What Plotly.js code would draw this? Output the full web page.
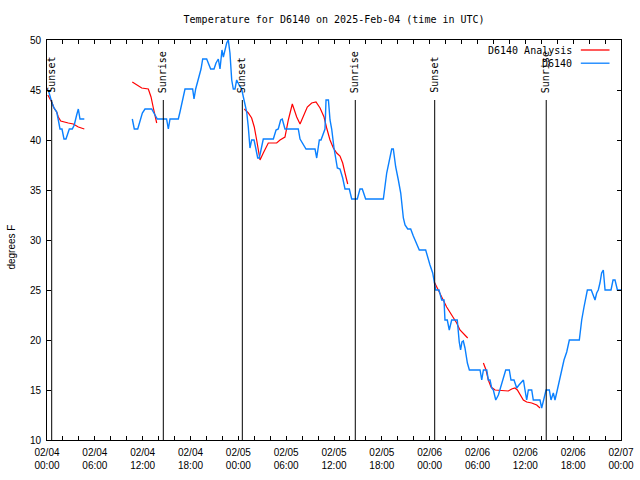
<!DOCTYPE html>
<html>
<head>
<meta charset="utf-8">
<script src="https://cdn.plot.ly/plotly-3.0.1.min.js"></script>
<style>html,body{margin:0;padding:0;background:#fff;}#chart{width:640px;height:480px;}</style>
</head>
<body>
<div id="chart"></div>
<script>
// Hours since 2025-02-04 00:00 UTC
const obsHours = [0.16,0.38,0.59,0.88,1.22,1.42,1.63,1.88,2.13,2.38,2.59,2.80,3.17,3.42,3.72,3.93,4.14,4.68,
  7.0,
  10.70,10.95,11.38,11.67,11.96,12.29,13.13,13.55,13.84,15.00,15.22,15.43,16.47,16.68,17.10,17.31,18.27,18.44,18.65,18.98,
  19.32,19.53,20.03,20.53,20.95,21.20,21.49,21.70,21.95,22.12,22.33,22.54,22.74,22.95,23.17,23.37,23.58,23.79,24.10,24.42,
  24.63,25.05,25.25,25.46,25.67,25.97,26.18,26.43,26.63,26.84,27.13,28.39,28.73,29.01,29.31,29.51,29.85,31.52,31.74,32.49,
  33.62,33.83,34.16,34.37,34.87,35.00,35.30,35.50,35.71,36.00,36.25,36.42,36.75,37.09,37.38,37.92,38.22,38.92,39.26,39.55,
  39.97,42.19,42.61,43.03,43.24,43.44,43.74,44.07,44.37,44.70,44.91,45.25,45.62,45.95,46.45,46.70,47.50,47.75,48.04,48.38,
  48.58,48.76,49.17,49.51,49.80,49.92,50.21,50.46,50.76,51.46,51.71,51.88,52.05,52.22,52.43,52.73,52.98,54.32,54.53,54.74,
  55.16,55.36,55.57,55.78,55.99,56.29,56.62,56.82,57.16,57.54,57.99,58.20,58.58,58.92,59.20,59.55,59.76,59.96,60.17,60.38,
  60.80,61.00,61.84,62.05,62.26,62.60,63.01,63.22,63.51,63.72,64.01,64.26,64.56,64.85,65.19,65.52,66.77,67.07,67.36,67.78,
  68.27,68.53,68.74,68.95,69.15,69.36,69.57,69.78,70.00,70.75,71.00,71.25,71.55,72.00];
const obsTemps = [45.0,44.3,43.8,43.2,42.8,42.0,41.1,41.1,40.1,40.1,40.7,41.1,41.1,41.5,42.5,43.1,42.1,42.1,
  null,
  42.1,41.1,41.1,42.0,42.7,43.1,43.1,42.5,42.1,42.1,41.1,42.1,42.1,42.8,44.2,45.1,45.1,44.1,45.1,46.0,
  47.1,48.1,48.1,47.1,47.1,47.7,48.1,47.1,49.0,48.3,49.0,49.7,50.0,48.7,46.0,45.1,45.1,46.0,45.5,45.1,
  44.3,42.8,41.3,39.2,40.0,40.0,39.2,38.2,38.2,39.1,40.1,40.1,41.0,41.1,42.0,42.1,41.1,41.1,40.1,39.1,
  39.1,38.2,40.0,40.0,41.1,44.0,44.0,42.0,41.1,39.2,38.2,37.2,37.1,36.2,35.1,35.1,34.1,34.1,35.1,35.1,
  34.1,34.1,36.7,38.5,39.1,39.1,37.3,36.0,34.7,32.2,31.5,31.1,31.1,30.4,29.5,29.0,29.0,28.2,27.5,26.7,
  25.7,25.0,25.0,24.0,24.0,22.0,22.0,21.0,22.0,22.0,19.8,19.0,19.8,19.9,19.2,17.7,17.0,17.0,16.0,17.0,
  17.0,16.0,16.0,15.2,15.0,14.0,14.5,15.0,16.0,17.0,17.0,16.0,16.0,15.2,15.5,15.8,16.0,15.0,14.0,15.0,
  15.0,14.0,14.0,13.2,14.0,15.0,15.0,14.0,14.7,14.0,15.0,16.0,17.0,18.0,18.8,20.0,20.0,22.0,23.3,25.0,
  25.0,24.5,24.0,24.7,25.0,25.7,26.7,27.0,25.0,25.0,26.0,26.0,25.0,25.0];

const anaHours = [0.10,0.59,0.88,1.22,1.42,1.72,2.67,3.30,3.93,4.68,
  7.0,
  10.70,11.25,11.88,12.71,13.05,13.34,13.55,13.76,
  18.0,
  24.75,25.25,25.67,26.00,26.30,26.50,26.72,27.13,27.76,28.81,29.23,29.85,30.27,30.77,31.32,31.74,32.15,32.65,33.20,33.74,
  34.25,34.75,35.08,35.50,35.92,36.34,36.75,37.09,37.38,37.72,
  43.0,
  48.58,48.88,49.30,49.71,50.13,50.76,51.39,51.80,52.77,
  54.0,
  54.74,55.07,55.36,55.70,56.20,57.24,57.87,58.29,58.70,59.00,59.33,59.75,60.17,60.80,61.43,61.84];
const anaTemps = [44.5,43.8,43.2,42.8,42.3,41.9,41.7,41.6,41.3,41.1,
  null,
  45.8,45.5,45.2,45.1,44.3,43.2,42.5,41.7,
  null,
  43.1,42.7,42.2,41.3,40.0,38.8,38.0,38.7,39.7,39.7,40.0,40.3,42.0,43.6,42.3,41.6,42.3,43.3,43.7,43.8,
  43.2,42.3,41.2,40.0,39.2,38.7,38.4,37.7,36.7,35.6,
  null,
  25.8,25.3,24.7,24.0,23.3,22.5,21.7,21.0,20.2,
  null,
  17.7,17.0,16.0,15.3,15.0,14.9,14.9,15.1,15.2,15.0,14.5,14.0,13.8,13.7,13.5,13.2];

const sunHours = [0.59, 14.59, 24.50, 38.67, 48.63, 62.62];
const sunLabels = ['Sunset','Sunrise','Sunset','Sunrise','Sunset','Sunrise'];
const sunLineTop = 44;

const tickHours = [0,6,12,18,24,30,36,42,48,54,60,66,72];
const tickLabels = ['02/04<br>00:00','02/04<br>06:00','02/04<br>12:00','02/04<br>18:00',
  '02/05<br>00:00','02/05<br>06:00','02/05<br>12:00','02/05<br>18:00',
  '02/06<br>00:00','02/06<br>06:00','02/06<br>12:00','02/06<br>18:00','02/07<br>00:00'];

const seriesNames = ['D6140 Analysis', 'D6140'];
const seriesColors = ['#ff0000', '#0a80ff'];

const mono = 'DejaVu Sans Mono, monospace';
const sans = 'Liberation Sans, Arial, sans-serif';

const traces = [
  {x: anaHours, y: anaTemps, name: seriesNames[0], type: 'scatter', mode: 'lines',
   line: {color: seriesColors[0], width: 1.2}, connectgaps: false},
  {x: obsHours, y: obsTemps, name: seriesNames[1], type: 'scatter', mode: 'lines',
   line: {color: seriesColors[1], width: 1.4}, connectgaps: false}
];

const shapes = sunHours.map(h => ({type: 'line', xref: 'x', yref: 'y', x0: h, x1: h, y0: 10, y1: sunLineTop,
  line: {color: '#000', width: 1}}));
const annotations = sunHours.map((h, i) => ({xref: 'x', yref: 'y', x: h, y: sunLineTop, text: sunLabels[i],
  textangle: -90, showarrow: false, xanchor: 'center', yanchor: 'bottom', yshift: 5, xshift: -1,
  font: {family: mono, size: 10, color: '#000'}}));

// legend drawn gnuplot-style (text left of sample)
const legY = [0.975, 0.942];
seriesNames.forEach((n, i) => {
  annotations.push({xref: 'paper', yref: 'paper', x: 0.918, y: legY[i], text: n, showarrow: false,
    xanchor: 'right', yanchor: 'middle', font: {family: mono, size: 10, color: '#000'}});
  shapes.push({type: 'line', xref: 'paper', yref: 'paper', x0: 0.930, x1: 0.980, y0: legY[i], y1: legY[i],
    line: {color: seriesColors[i], width: 1.3}});
});

annotations.push({xref: 'paper', yref: 'paper', x: -0.062, y: 0.482, text: 'degrees F', textangle: -90,
  showarrow: false, xanchor: 'center', yanchor: 'middle', font: {family: sans, size: 10, color: '#000'}});

const layout = {
  width: 640, height: 480,
  margin: {l: 47, r: 19, t: 40, b: 40},
  paper_bgcolor: '#fff', plot_bgcolor: '#fff',
  showlegend: false,
  title: {text: 'Temperature for D6140 on 2025-Feb-04 (time in UTC)', font: {family: mono, size: 10, color: '#000'},
    x: 0.522, xanchor: 'center', y: 0.96, yanchor: 'middle'},
  xaxis: {type: 'linear', range: [0, 72], tickvals: tickHours, ticktext: tickLabels,
    ticks: 'inside', ticklen: 4, tickcolor: '#000', showline: true, linecolor: '#000', linewidth: 1, mirror: 'ticks',
    showgrid: false, zeroline: false, automargin: false, ticklabelstandoff: 3,
    minor: {tick0: 0, dtick: 2, ticks: 'inside', ticklen: 4, tickcolor: '#000', showgrid: false},
    tickfont: {family: sans, size: 10, color: '#000'}},
  yaxis: {range: [10, 50], dtick: 5, tick0: 10, ticks: 'inside', ticklen: 4, tickcolor: '#000',
    showline: true, linecolor: '#000', linewidth: 1, mirror: 'ticks', showgrid: false, zeroline: false,
    automargin: false, ticklabelstandoff: 3, tickfont: {family: sans, size: 10, color: '#000'}},
  shapes: shapes,
  annotations: annotations
};

Plotly.newPlot('chart', traces, layout, {staticPlot: true, displayModeBar: false});
</script>
</body>
</html>
